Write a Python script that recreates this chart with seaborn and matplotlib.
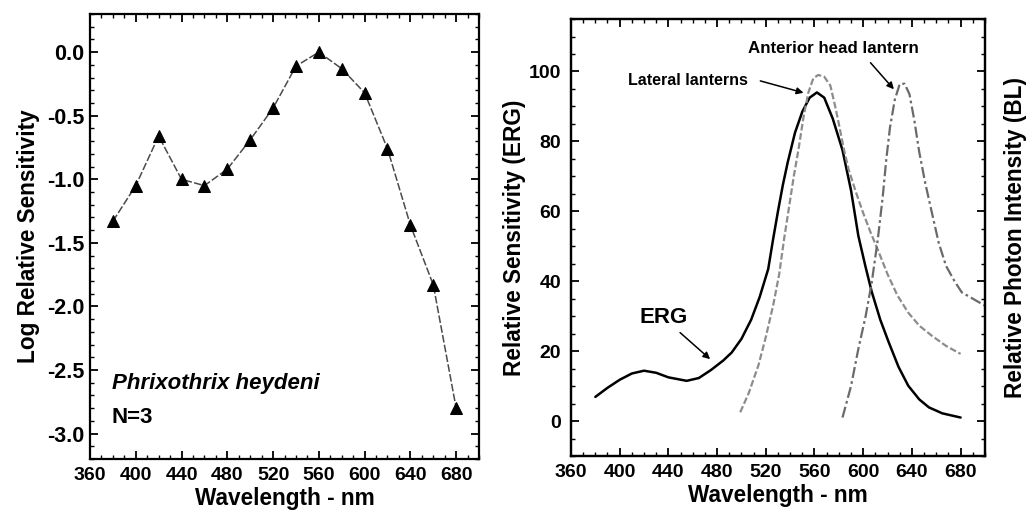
import numpy as np
import pandas as pd
import matplotlib
matplotlib.use("Agg")
import matplotlib.pyplot as plt
from matplotlib.ticker import MultipleLocator, FormatStrFormatter
import seaborn as sns

# ---- Left panel: log spectral sensitivity (triangles) ----
wl_log = [380, 400, 420, 440, 460, 480, 500, 520, 540, 560, 580, 600, 620, 640, 660, 680]
log_sens = [-1.33, -1.05, -0.66, -1.00, -1.05, -0.92, -0.69, -0.44, -0.11, 0.00,
            -0.13, -0.32, -0.76, -1.36, -1.83, -2.80]

# ---- Right panel: ERG sensitivity and lantern emission spectra ----
erg_wl = [380, 390, 400, 410, 420, 430, 440, 455, 465, 475, 485, 492, 500, 508,
          515, 522, 526, 530, 534, 538, 544, 550, 556, 562, 568, 575, 583, 590,
          596, 602, 607, 614, 621, 629, 637, 646, 654, 665, 680]
erg_val = [6.9, 9.5, 11.8, 13.6, 14.4, 13.8, 12.5, 11.5, 12.3, 14.6, 17.3, 19.6,
           23.5, 29.0, 35.5, 43.5, 52.0, 60.0, 67.5, 74.0, 82.5, 88.5, 92.5, 94.0,
           92.5, 86.5, 77.5, 66.0, 53.0, 44.0, 37.0, 29.0, 22.5, 15.5, 10.1, 6.2,
           3.9, 2.2, 1.0]

lat_wl = [499, 506, 514, 520, 526, 531, 535, 539, 543, 547, 551, 555, 559, 563,
          568, 573, 577, 580, 584, 588, 594, 600, 606, 612, 620, 628, 637, 646,
          656, 668, 680]
lat_val = [2.5, 8.0, 16.0, 24.0, 33.0, 42.0, 52.0, 61.0, 70.0, 78.0, 87.0, 94.0,
           98.0, 99.0, 98.5, 96.0, 90.0, 85.0, 78.0, 72.0, 65.5, 59.5, 54.0, 49.0,
           42.0, 36.0, 31.0, 27.3, 24.5, 21.5, 19.2]

ant_wl = [583, 590, 596, 602, 607, 612, 616, 619, 622, 626, 630, 634, 638, 642,
          646, 651, 657, 662, 668, 675, 681, 690, 700]
ant_val = [1.0, 10.0, 20.6, 30.0, 39.6, 52.0, 64.0, 75.0, 84.0, 92.0, 96.4, 96.5,
           93.5, 86.0, 77.0, 68.0, 58.7, 51.0, 44.4, 40.0, 36.8, 35.0, 33.0]

xticks = [360, 400, 440, 480, 520, 560, 600, 640, 680]

sns.set_style("ticks")
plt.rcParams["font.family"] = ["Liberation Sans", "DejaVu Sans"]
plt.rcParams["font.weight"] = "bold"
plt.rcParams["axes.labelweight"] = "bold"
plt.rcParams["axes.unicode_minus"] = False
for key in ("text.color", "axes.labelcolor", "xtick.color", "ytick.color",
            "axes.edgecolor"):
    plt.rcParams[key] = "black"

fig = plt.figure(figsize=(10.26, 5.17), dpi=100)
axL = fig.add_axes([0.0877, 0.1122, 0.3792, 0.8607])
axR = fig.add_axes([0.5565, 0.1180, 0.4035, 0.8452])

TICK_FS = 14
LABEL_FS = 16.3


def style_axis(ax):
    for s in ax.spines.values():
        s.set_linewidth(1.6)
        s.set_color("black")
    ax.tick_params(which="both", direction="in", top=True, right=True,
                   colors="black", labelsize=TICK_FS)
    ax.tick_params(which="major", length=6, width=1.3)
    ax.tick_params(which="minor", length=3, width=1.0)
    ax.set_xlim(360, 700)
    ax.set_xticks(xticks)
    ax.xaxis.set_minor_locator(MultipleLocator(10))
    ax.tick_params(axis="x", pad=6)


# Left panel
df_log = pd.DataFrame({"wl": wl_log, "sens": log_sens})
sns.lineplot(data=df_log, x="wl", y="sens", ax=axL, color="#4a4a4a", lw=1.1,
             linestyle=(0, (5, 1.5)), marker="^", markersize=8,
             markerfacecolor="black", markeredgecolor="black")
style_axis(axL)
axL.set_ylim(-3.2, 0.3)
axL.yaxis.set_major_locator(MultipleLocator(0.5))
axL.yaxis.set_minor_locator(MultipleLocator(0.1))
axL.yaxis.set_major_formatter(FormatStrFormatter("%.1f"))
axL.tick_params(axis="y", pad=4, labelsize=15.5)
axL.set_xlabel("Wavelength - nm", fontsize=LABEL_FS, labelpad=2)
axL.set_ylabel("Log Relative Sensitivity", fontsize=LABEL_FS, labelpad=5)
axL.text(379, -2.61, "Phrixothrix heydeni", fontsize=16, style="italic",
         va="center", ha="left")
axL.text(379, -2.87, "N=3", fontsize=16, va="center", ha="left")

# Right panel
sns.lineplot(x=erg_wl, y=erg_val, ax=axR, color="black", lw=1.8)
sns.lineplot(x=lat_wl, y=lat_val, ax=axR, color="#8c8c8c", lw=1.6,
             linestyle=(0, (3, 1.2)))
sns.lineplot(x=ant_wl, y=ant_val, ax=axR, color="#6a6a6a", lw=1.6,
             linestyle=(0, (5, 1.5, 1.2, 1.5)))
style_axis(axR)
axR.tick_params(right=False)
axR.set_ylim(-10, 115)
axR.yaxis.set_major_locator(MultipleLocator(20))
axR.yaxis.set_minor_locator(MultipleLocator(5))
axR.tick_params(axis="y", pad=7)
axR.set_xlabel("Wavelength - nm", fontsize=LABEL_FS, labelpad=2)
axR.set_ylabel("Relative Sensitivity (ERG)", fontsize=LABEL_FS, labelpad=2)

arrow = dict(arrowstyle="-|>", color="black", lw=1.1, mutation_scale=10,
             shrinkA=0, shrinkB=0)
axR.text(505, 97.3, "Lateral lanterns", fontsize=11.5, ha="right", va="center")
axR.annotate("", xy=(551, 93.9), xytext=(515.5, 97.3), arrowprops=arrow)
axR.text(575.5, 106.7, "Anterior head lantern", fontsize=12.2, ha="center",
         va="center")
axR.annotate("", xy=(625.2, 94.9), xytext=(606, 102.5), arrowprops=arrow)
axR.text(436, 29.6, "ERG", fontsize=16, ha="center", va="center")
axR.annotate("", xy=(474.3, 17.7), xytext=(449.6, 25.3), arrowprops=arrow)

# Secondary axis for the bioluminescence spectra
ax2 = axR.twinx()
ax2.set_ylim(axR.get_ylim())
ax2.yaxis.set_major_locator(MultipleLocator(20))
ax2.yaxis.set_minor_locator(MultipleLocator(5))
ax2.tick_params(which="both", direction="in", labelright=False, right=True)
ax2.tick_params(which="major", length=6, width=1.3)
ax2.tick_params(which="minor", length=3, width=1.0)
for s in ax2.spines.values():
    s.set_linewidth(1.6)
ax2.set_ylabel("Relative Photon Intensity (BL)", fontsize=LABEL_FS, labelpad=14)

fig.savefig("out.png", dpi=100)
